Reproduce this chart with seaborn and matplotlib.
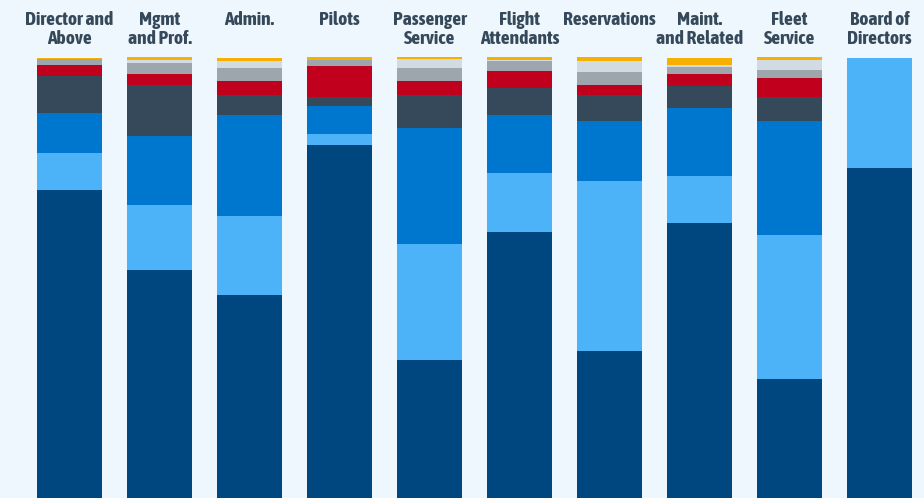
import numpy as np
import pandas as pd
import matplotlib
matplotlib.use("Agg")
import matplotlib.pyplot as plt
from matplotlib import font_manager
import seaborn as sns

# Job groups shown across the top
groups = ["Director and\nAbove", "Mgmt\nand Prof.", "Admin.", "Pilots", "Passenger\nService",
          "Flight\nAttendants", "Reservations", "Maint.\nand Related", "Fleet\nService", "Board of\nDirectors"]

# Share of each group (%) by segment, listed from the bottom of each bar upward
seg_navy      = [70.0, 51.8, 46.1, 80.2, 31.4, 60.5, 33.4, 62.5, 27.0, 75.0]
seg_lightblue = [8.4, 14.8, 18.0, 2.5, 26.4, 13.4, 38.6, 10.7, 32.7, 25.0]
seg_blue      = [9.2, 15.7, 23.0, 6.4, 26.4, 13.2, 13.6, 15.5, 25.9, 0.0]
seg_slate     = [8.4, 11.6, 4.5, 2.0, 7.5, 6.1, 5.9, 5.0, 5.5, 0.0]
seg_red       = [2.4, 2.5, 3.2, 7.0, 3.0, 3.9, 2.3, 2.7, 4.3, 0.0]
seg_gray      = [1.4, 2.5, 3.0, 1.4, 3.0, 2.3, 3.0, 1.6, 1.8, 0.0]
seg_lightgray = [0.0, 0.7, 1.6, 0.0, 2.0, 0.2, 2.5, 0.5, 2.3, 0.0]
seg_yellow    = [0.2, 0.7, 0.7, 0.7, 0.5, 0.7, 0.9, 1.6, 0.7, 0.0]

segments = [seg_navy, seg_lightblue, seg_blue, seg_slate, seg_red, seg_gray, seg_lightgray, seg_yellow]
colors = ["#00467F", "#4DB3F8", "#0077CF", "#36495A", "#C0001C", "#9EA6AD", "#D2DAE2", "#F8B000"]

bg = "#EEF7FD"
text_color = "#36495A"

sns.set_theme(style="white")

# prefer a narrow/condensed face close to a semibold/bold weight
candidates = [f for f in font_manager.fontManager.ttflist
              if ("Condensed" in f.name or "Narrow" in f.name)
              and isinstance(f.weight, int) and 500 <= f.weight <= 800
              and f.style == "normal"]
candidates.sort(key=lambda f: abs(f.weight - 650))
if candidates:
    header_font = font_manager.FontProperties(fname=candidates[0].fname)
    label_size = 14
else:
    header_font = font_manager.FontProperties(family=["Roboto", "DejaVu Sans"], weight="bold")
    label_size = 12
header_font.set_size(label_size)
plt.rcParams["font.family"] = ["Roboto", "DejaVu Sans"]

fig = plt.figure(figsize=(9.24, 4.98), dpi=100, facecolor=bg)
ax = fig.add_axes([0, 0, 1, 440 / 498])
ax.set_facecolor(bg)

cum = np.cumsum(np.array(segments), axis=0)
# draw cumulative totals from the top layer down so each layer covers the one above it
for level in range(len(segments) - 1, -1, -1):
    df = pd.DataFrame({"group": groups, "value": cum[level]})
    sns.barplot(data=df, x="group", y="value", color=colors[level], saturation=1,
                width=65 / 90, linewidth=0, ax=ax, order=groups)

for p in ax.patches:
    p.set_clip_on(False)

ax.set_xlim(-69.5 / 90, (924 - 69.5) / 90)
ax.set_ylim(0, 100)
ax.set_axis_off()

for i, g in enumerate(groups):
    ax.text(i, 1 + 47 / 440, g, transform=ax.get_xaxis_transform(), ha="center", va="top",
            fontproperties=header_font, color=text_color, linespacing=1.05)

fig.savefig("out.png", dpi=100, facecolor=bg)
